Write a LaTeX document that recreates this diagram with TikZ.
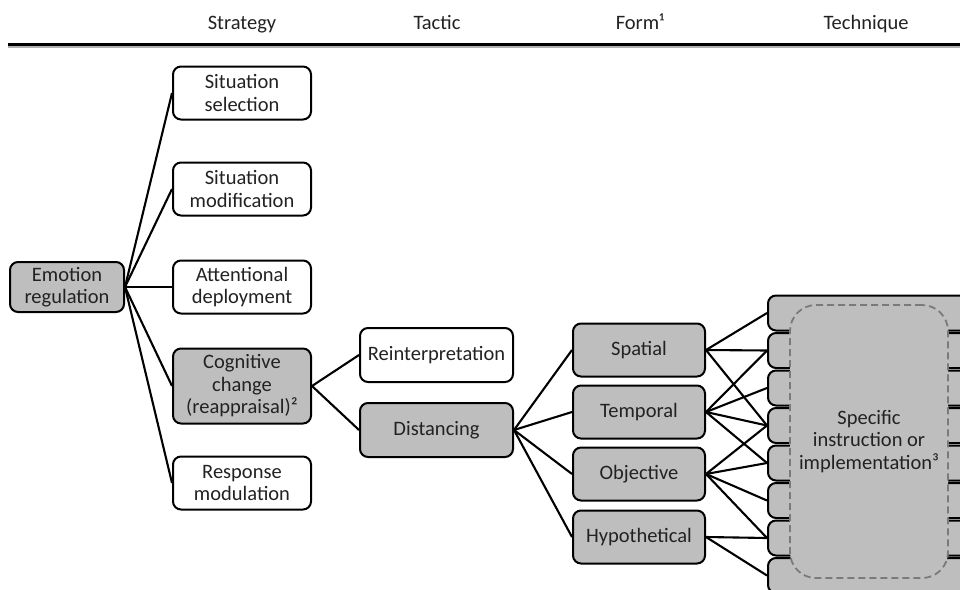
\documentclass[tikz,border=0pt]{standalone}
\usepackage{fontspec}
\setmainfont{Carlito}
\definecolor{boxgray}{HTML}{BEBEBE}
\definecolor{txt}{HTML}{222222}
\definecolor{dashgray}{HTML}{7A7A7A}
\begin{document}
\begin{tikzpicture}[x=1pt,y=-1pt,
  box/.style={draw=black, line width=2pt, rounded corners=8pt, align=center,
    inner sep=0pt, font=\fontsize{20.5}{22.5}\selectfont, text=txt},
  wbox/.style={box, fill=white},
  gbox/.style={box, fill=boxgray},
  strat/.style={minimum width=138pt, minimum height=53pt},
  tact/.style={minimum width=153pt, minimum height=54pt},
  formbox/.style={gbox, minimum width=132pt, minimum height=53pt},
  techbox/.style={gbox, minimum width=217pt, minimum height=35pt},
  link/.style={line width=2.1pt, draw=black},
  head/.style={font=\fontsize{20.5}{22.5}\selectfont, text=txt, inner sep=0pt, anchor=base}]
\useasboundingbox (0,0) rectangle (960,589);
\clip (0,0) rectangle (960,589);

% header
\node[head] (hs) at (242,29) {Strategy};
\node[head] (ht) at (437,29) {Tactic};
\node[head] (hf) at (640,29) {Form¹};
\node[head] (hq) at (866,29) {Technique};
\draw[line width=2pt, gray!60] (8,47) -- (960,47);
\draw[line width=3pt, black] (8,44) -- (960,44);

% root
\node[gbox, minimum width=114pt, minimum height=50pt] (er) at (67,287) {Emotion\\regulation};

% strategies
\node[wbox, strat] (s1) at (242,93) {Situation\\selection};
\node[wbox, strat] (s2) at (242,189) {Situation\\modification};
\node[wbox, strat] (s3) at (242,287) {Attentional\\deployment};
\node[gbox, strat, minimum height=75pt] (s4) at (242,386) {Cognitive\\change\\(reappraisal)²};
\node[wbox, strat] (s5) at (242,483) {Response\\modulation};

% tactics
\node[wbox, tact] (r) at (436.5,355) {Reinterpretation};
\node[gbox, tact] (d) at (436.5,430) {Distancing};

% forms
\node[formbox] (f1) at (639,350) {Spatial};
\node[formbox] (f2) at (639,412) {Temporal};
\node[formbox] (f3) at (639,474) {Objective};
\node[formbox] (f4) at (639,537) {Hypothetical};

% techniques
\foreach \i in {1,...,8} {
  \node[techbox] (t\i) at (876.5,{313+37.5*(\i-1)}) {};
}
\node[draw=dashgray, dashed, dash pattern=on 7pt off 4pt, line width=1.8pt, fill=boxgray,
  rounded corners=26pt, minimum width=158pt, minimum height=273pt, align=center,
  inner sep=0pt, font=\fontsize{20.5}{22.5}\selectfont, text=txt] (spec) at (869,441.5)
  {Specific\\instruction or\\implementation³};

% connectors
\foreach \s in {s1,s2,s3,s4,s5} \draw[link] (er.east) -- (\s.west);
\draw[link] (s4.east) -- (r.west);
\draw[link] (s4.east) -- (d.west);
\foreach \f in {f1,f2,f3,f4} \draw[link] (d.east) -- (\f.west);
\foreach \t in {1,2,4} \draw[link] (f1.east) -- (t\t.west);
\foreach \t in {2,3,4,5} \draw[link] (f2.east) -- (t\t.west);
\foreach \t in {4,5,6,7} \draw[link] (f3.east) -- (t\t.west);
\foreach \t in {7,8} \draw[link] (f4.east) -- (t\t.west);
\end{tikzpicture}
\end{document}
